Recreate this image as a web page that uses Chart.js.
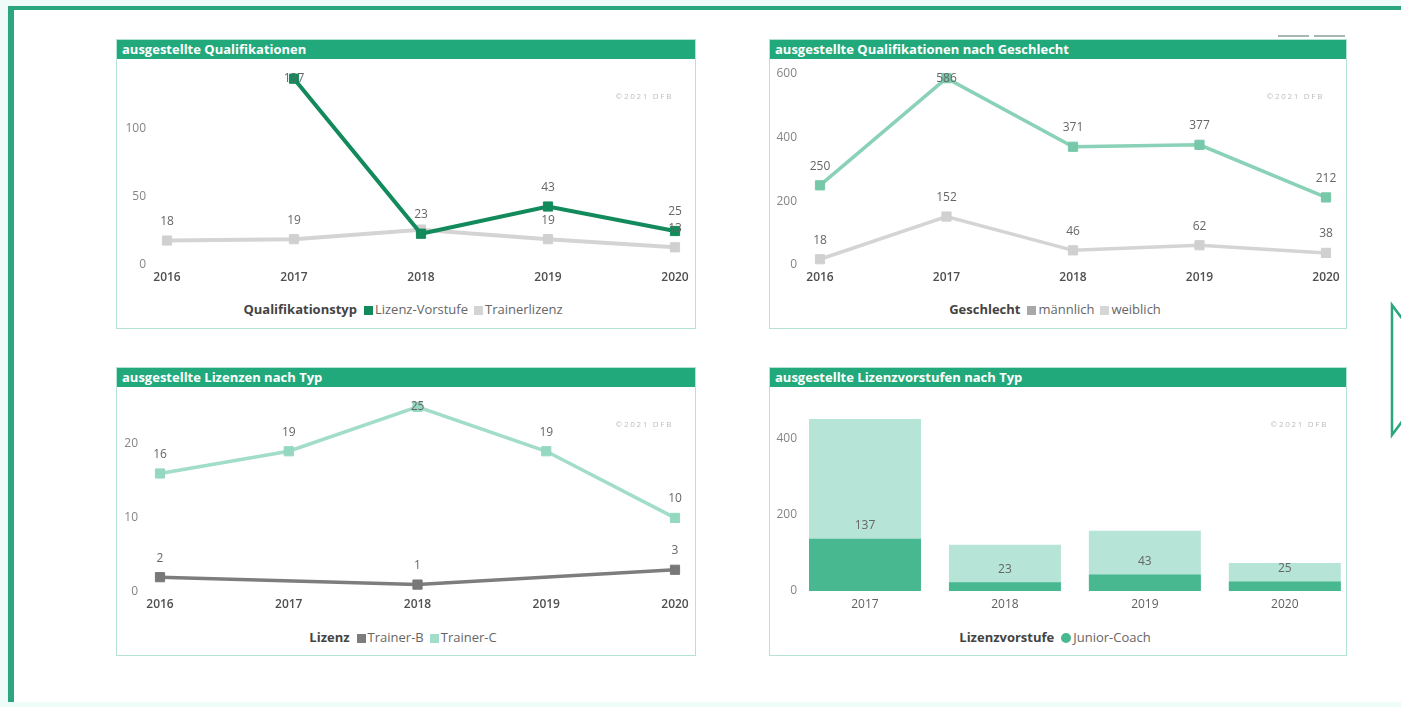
<!DOCTYPE html>
<html lang="de">
<head>
<meta charset="utf-8">
<title>Ausgestellte Qualifikationen</title>
<script src="https://cdn.jsdelivr.net/npm/chart.js@4.4.1/dist/chart.umd.min.js"></script>
<style>
  html, body { margin: 0; padding: 0; }
  body {
    width: 1401px; height: 707px; overflow: hidden; position: relative;
    background: #eefbf9; font-family: "Open Sans", sans-serif;
  }
  #rahmen {
    position: absolute; left: 8px; top: 6px; width: 1393px; height: 696px;
    border-left: 6px solid #2ba67f; border-top: 4px solid #2ba67f;
    background: #fff; box-sizing: border-box;
  }
  .kachel {
    position: absolute; border: 1px solid #b4e2d5; background: #fff; box-sizing: border-box;
  }
  .kopf {
    height: 19px; line-height: 19px; background: #22a97b; color: #fff;
    font-weight: 700; font-size: 13px; padding-left: 5px; white-space: nowrap;
  }
  .kachel canvas { position: absolute; left: 0; top: 19px; }
  .legende {
    position: absolute; left: 0; right: 0; top: 260px; height: 18px; line-height: 18px;
    text-align: center; font-size: 13px; color: #666; white-space: nowrap;
  }
  .legende b { color: #444; font-weight: 700; margin-right: 7px; }
  .legende .eintrag { margin-right: 6px; }
  .legende i {
    display: inline-block; width: 9px; height: 9px; margin-right: 2px; vertical-align: -0.5px;
  }
  .legende i.kreis { border-radius: 50%; width: 10px; height: 10px; }
  .wasserzeichen {
    position: absolute; top: 50px; font-size: 8px; letter-spacing: 1.7px; color: #bdbdbd;
  }
  .kopfleiste {
    position: absolute; top: 35px; height: 2px; background: #aab6b3;
  }
  #pfeil { position: absolute; left: 1386px; top: 301px; }
</style>
</head>
<body>
<div id="rahmen"></div>

<div class="kopfleiste" style="left:1278px;width:31px"></div>
<div class="kopfleiste" style="left:1314px;width:31px"></div>

<div class="kachel" style="left:116px;top:39px;width:580px;height:290px">
  <div class="kopf">ausgestellte Qualifikationen</div>
  <canvas id="quali" width="578" height="238"></canvas>
  <div class="wasserzeichen" style="right:22px">©2021 DFB</div>
  <div class="legende" id="legendeQuali"></div>
</div>

<div class="kachel" style="left:769px;top:39px;width:578px;height:290px">
  <div class="kopf">ausgestellte Qualifikationen nach Geschlecht</div>
  <canvas id="geschlecht" width="576" height="238"></canvas>
  <div class="wasserzeichen" style="right:22px">©2021 DFB</div>
  <div class="legende" id="legendeGeschlecht"></div>
</div>

<div class="kachel" style="left:116px;top:367px;width:580px;height:289px">
  <div class="kopf">ausgestellte Lizenzen nach Typ</div>
  <canvas id="lizenzen" width="578" height="238"></canvas>
  <div class="wasserzeichen" style="right:22px">©2021 DFB</div>
  <div class="legende" id="legendeLizenzen"></div>
</div>

<div class="kachel" style="left:769px;top:367px;width:578px;height:289px">
  <div class="kopf">ausgestellte Lizenzvorstufen nach Typ</div>
  <canvas id="vorstufen" width="576" height="238"></canvas>
  <div class="wasserzeichen" style="right:18px">©2021 DFB</div>
  <div class="legende" id="legendeVorstufen"></div>
</div>

<svg id="pfeil" width="40" height="140">
  <polygon points="6,4 6,134 54,69" fill="none" stroke="#2ba67f" stroke-width="2.5"/>
</svg>

<script>
// Jahre und Werte
const jahre = ['2016', '2017', '2018', '2019', '2020'];

const lizenzVorstufe = [null, 137, 23, 43, 25];
const trainerlizenz = [18, 19, 26, 19, 13];

const maennlich = [250, 586, 371, 377, 212];
const weiblich = [18, 152, 46, 62, 38];

const trainerB = [2, null, 1, null, 3];
const trainerC = [16, 19, 25, 19, 10];

const jahreVorstufen = [2017, 2018, 2019, 2020];
const juniorCoach = [137, 23, 43, 25];
const vorstufenGesamt = [450, 121, 158, 73];

// Achsenbeschriftungen
const ticksQuali = [0, 50, 100];
const ticksGeschlecht = [0, 200, 400, 600];
const ticksLizenzen = [0, 10, 20];
const ticksVorstufen = [0, 200, 400];

Chart.defaults.font.family = '"Open Sans", sans-serif';
Chart.defaults.font.size = 12;

// Werte über die Punkte / Balken schreiben, überlappende Labels weglassen
const wertLabels = {
  id: 'wertLabels',
  afterDatasetsDraw(chart) {
    const ctx = chart.ctx;
    const area = chart.chartArea;
    const belegt = [];
    ctx.save();
    ctx.font = '12px "Open Sans", sans-serif';
    ctx.fillStyle = '#666';
    ctx.textAlign = 'center';
    ctx.textBaseline = 'middle';
    chart.data.datasets.forEach((ds, i) => {
      if (ds.ohneWerte) return;
      const meta = chart.getDatasetMeta(i);
      meta.data.forEach((el, j) => {
        const roh = ds.data[j];
        const wert = roh !== null && typeof roh === 'object' ? roh.y : roh;
        if (wert == null) return;
        let y = el.y - (ds.wertAbstand || 19);
        if (y - 7 < area.top) y = el.y;
        const text = String(wert);
        const w = ctx.measureText(text).width;
        const box = { l: el.x - w / 2, r: el.x + w / 2, t: y - 7, b: y + 7 };
        if (belegt.some(b => box.l < b.r && box.r > b.l && box.t < b.b && box.b > b.t)) return;
        belegt.push(box);
        ctx.fillText(text, el.x, y);
      });
    });
    ctx.restore();
  }
};

// Legende als HTML: fetter Titel + Einträge aus dem Chart
function baueLegende(id, titel, chart, form) {
  const items = chart.options.plugins.legend.labels.generateLabels(chart)
    .filter(it => chart.data.datasets[it.datasetIndex].imLegend !== false);
  let html = '<b>' + titel + '</b>';
  items.forEach(it => {
    html += '<span class="eintrag"><i class="' + (form || 'quadrat') + '" style="background:' +
      it.fillStyle + '"></i>' + it.text + '</span>';
  });
  document.getElementById(id).innerHTML = html;
}

// y-Achse mit fester Breite, ohne eigenen Innenabstand oben/unten
function yAchse(max, ticks, breite, abstand) {
  return {
    min: 0,
    max: max,
    grid: { display: false, drawTicks: false },
    border: { display: false },
    ticks: { color: '#858585', padding: abstand },
    afterBuildTicks: a => { a.ticks = ticks.map(v => ({ value: v })); },
    afterFit: s => { s.width = breite; s.paddingTop = 0; s.paddingBottom = 0; }
  };
}

function linie(label, werte, farbe, legendenFarbe, punktFarbe, breite) {
  return {
    label: label,
    data: werte,
    borderColor: farbe,
    backgroundColor: legendenFarbe,
    pointBackgroundColor: punktFarbe,
    pointBorderColor: punktFarbe,
    borderWidth: breite,
    pointStyle: 'rect',
    pointRadius: 6.5,
    pointBorderWidth: 1,
    tension: 0,
    spanGaps: true,
    fill: false
  };
}

function linienDiagramm(id, datasets, cfg) {
  return new Chart(document.getElementById(id), {
    type: 'line',
    data: { labels: jahre, datasets: datasets },
    options: {
      responsive: false,
      animation: false,
      events: [],
      layout: { autoPadding: false, padding: { top: cfg.oben, right: cfg.rechts, left: 0, bottom: 0 } },
      plugins: {
        legend: { display: false },
        tooltip: { enabled: false }
      },
      scales: {
        x: {
          grid: { display: false, drawTicks: false },
          border: { display: false },
          ticks: { color: '#4f4f4f', font: { weight: 600 }, padding: 5, maxRotation: 0, autoSkip: false },
          afterFit: s => { s.height = cfg.xHoehe; }
        },
        y: yAchse(cfg.max, cfg.ticks, cfg.yBreite, cfg.yAbstand)
      }
    },
    plugins: [wertLabels]
  });
}

// ausgestellte Qualifikationen
const chartQuali = linienDiagramm('quali', [
  linie('Lizenz-Vorstufe', lizenzVorstufe, '#138a5c', '#138a5c', '#138a5c', 4),
  linie('Trainerlizenz', trainerlizenz, '#d4d4d4', '#d4d4d4', '#d0d0d0', 4)
], { max: 150, ticks: ticksQuali, oben: 2, rechts: 20, xHoehe: 32, yBreite: 50, yAbstand: 21 });
baueLegende('legendeQuali', 'Qualifikationstyp', chartQuali);

// nach Geschlecht
const chartGeschlecht = linienDiagramm('geschlecht', [
  linie('männlich', maennlich, '#89d1b7', '#a8a8a8', '#76c8a9', 3.5),
  linie('weiblich', weiblich, '#d4d4d4', '#d6d6d6', '#d0d0d0', 3.5)
], { max: 640, ticks: ticksGeschlecht, oben: 2, rechts: 20, xHoehe: 32, yBreite: 50, yAbstand: 23 });
baueLegende('legendeGeschlecht', 'Geschlecht', chartGeschlecht);

// Lizenzen nach Typ
const chartLizenzen = linienDiagramm('lizenzen', [
  linie('Trainer-B', trainerB, '#7d7d7d', '#7d7d7d', '#787878', 3.5),
  linie('Trainer-C', trainerC, '#a1ddc8', '#a1ddc8', '#94d8c0', 3.5)
], { max: 27, ticks: ticksLizenzen, oben: 5, rechts: 20, xHoehe: 33, yBreite: 43, yAbstand: 22 });
baueLegende('legendeLizenzen', 'Lizenz', chartLizenzen);

// Lizenzvorstufen nach Typ (Balken übereinander statt gestapelt)
const chartVorstufen = new Chart(document.getElementById('vorstufen'), {
  type: 'bar',
  data: {
    datasets: [
      {
        label: 'Junior-Coach',
        data: jahreVorstufen.map((j, i) => ({ x: j, y: juniorCoach[i] })),
        backgroundColor: '#48b890',
        order: 1,
        wertAbstand: 13
      },
      {
        label: 'Gesamt',
        data: jahreVorstufen.map((j, i) => ({ x: j, y: vorstufenGesamt[i] })),
        backgroundColor: '#b6e4d6',
        order: 2,
        ohneWerte: true,
        imLegend: false
      }
    ]
  },
  options: {
    responsive: false,
    animation: false,
    events: [],
    grouped: false,
    categoryPercentage: 1,
    barPercentage: 0.8,
    layout: { autoPadding: false, padding: { top: 13, right: 1, left: 0, bottom: 0 } },
    plugins: {
      legend: { display: false },
      tooltip: { enabled: false }
    },
    scales: {
      x: {
        type: 'linear',
        offset: false,
        min: 2016.55,
        max: 2020.43,
        grid: { display: false, drawTicks: false },
        border: { display: false },
        ticks: { color: '#5f5f5f', padding: 6, maxRotation: 0, callback: v => String(v) },
        afterBuildTicks: a => { a.ticks = jahreVorstufen.map(v => ({ value: v })); },
        afterFit: s => { s.height = 34; }
      },
      y: yAchse(500, ticksVorstufen, 32, 5)
    }
  },
  plugins: [wertLabels]
});
baueLegende('legendeVorstufen', 'Lizenzvorstufe', chartVorstufen, 'kreis');
</script>
</body>
</html>
